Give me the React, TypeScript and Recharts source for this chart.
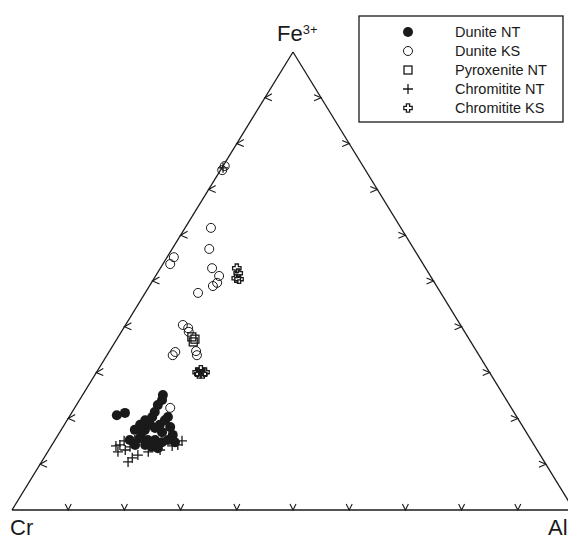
import React from 'react';
import { ScatterChart, Scatter, XAxis, YAxis, ReferenceLine } from 'recharts';

// compositions in %: [Fe3+, Al]  (Cr = 100 - Fe3+ - Al)
const duniteNT = [
  [20.7, 8.3], [21.2, 9.5], [25.1, 14.3], [24.0, 14.7], [22.9, 14.5], [21.4, 14.7],
  [20.3, 14.8], [20.3, 17.6], [18.1, 19.1], [16.4, 20.4], [14.8, 21.6], [17.5, 13.1],
  [18.6, 13.5], [17.5, 14.9], [18.6, 15.3], [17.9, 16.5], [18.6, 17.0], [17.0, 18.2],
  [15.7, 14.9], [15.3, 16.5], [15.3, 17.8], [14.8, 19.3], [15.3, 20.1], [14.2, 16.6],
  [14.2, 14.8], [13.8, 18.0], [13.5, 19.2], [15.3, 13.3], [17.0, 14.6], [19.6, 17.4],
  [19.6, 13.9],
];
const duniteKS = [
  [74.2, 0.3], [75.1, 0.3], [61.6, 4.6], [57.0, 6.6], [55.2, 1.2], [53.7, 1.3],
  [52.8, 9.2], [51.1, 11.3], [49.6, 11.7], [48.9, 11.3], [47.4, 9.4], [40.4, 10.2],
  [39.7, 11.5], [38.9, 12.0], [34.5, 11.8], [33.8, 11.7], [33.8, 16.0], [34.7, 15.4],
  [22.3, 17.0],
];
const pyroxeniteNT = [[36.7, 13.9], [37.8, 13.1], [37.3, 13.9]];
const chromititeNT = [
  [74.7, 0.2], [14.2, 12.1], [12.7, 12.5], [10.5, 15.4], [11.4, 15.7], [12.0, 16.4],
  [13.1, 13.6], [15.1, 22.7], [14.2, 22.4], [19.0, 14.2], [15.9, 14.8], [13.8, 14.1],
  [12.7, 17.9], [15.3, 14.2], [14.0, 11.5], [15.1, 12.4], [17.9, 14.2], [13.1, 19.8],
  [14.0, 21.5],
];
const chromititeKS = [
  [52.8, 13.6], [51.7, 14.4], [50.6, 14.6], [50.4, 15.2], [30.1, 17.9], [30.6, 18.3],
  [30.1, 19.3], [29.7, 18.4], [29.7, 19.1],
];
const tickValues = [10, 20, 30, 40, 50, 60, 70, 80, 90];

const INK = '#1a1a1a';
const FONT = 'Arial, "Liberation Sans", Helvetica, sans-serif';

// ternary -> cartesian (Cr at left, Al at right, Fe3+ on top)
const toXY = ([fe, al]: number[]) => ({ x: al + fe / 2, y: fe });

const CR = toXY([0, 0]);
const AL = toXY([0, 100]);
const FE = toXY([100, 0]);

const bottomTicks = tickValues.map((t) => toXY([0, t]));
const leftTicks = tickValues.map((t) => toXY([t, 0]));
const rightTicks = tickValues.map((t) => toXY([t, 100 - t]));

const chevron = (a: number[], b: number[]) => (props: any) => {
  const { cx, cy } = props;
  return (
    <path
      d={`M${cx + a[0]},${cy + a[1]}L${cx},${cy}L${cx + b[0]},${cy + b[1]}`}
      fill="none"
      stroke={INK}
      strokeWidth={1.1}
    />
  );
};

const FilledDot = (p: any) => <circle cx={p.cx} cy={p.cy} r={5} fill={INK} />;
const OpenDot = (p: any) => (
  <circle cx={p.cx} cy={p.cy} r={4.5} fill="none" stroke={INK} strokeWidth={1} />
);
const OpenSquare = (p: any) => (
  <rect x={p.cx - 4} y={p.cy - 4} width={8} height={8} fill="none" stroke={INK} strokeWidth={1.3} />
);
const Plus = (p: any) => (
  <path
    d={`M${p.cx - 5},${p.cy}H${p.cx + 5}M${p.cx},${p.cy - 5}V${p.cy + 5}`}
    stroke={INK}
    strokeWidth={1.3}
  />
);
const OutlineCross = (p: any) => {
  const { cx, cy } = p;
  const a = 1.6;
  const b = 4.2;
  return (
    <path
      d={`M${cx - a},${cy - b}H${cx + a}V${cy - a}H${cx + b}V${cy + a}H${cx + a}V${cy + b}H${cx - a}V${cy + a}H${cx - b}V${cy - a}H${cx - a}Z`}
      fill="none"
      stroke={INK}
      strokeWidth={1.3}
    />
  );
};

const legendItems = [
  { label: 'Dunite NT', Shape: FilledDot },
  { label: 'Dunite KS', Shape: OpenDot },
  { label: 'Pyroxenite NT', Shape: OpenSquare },
  { label: 'Chromitite NT', Shape: Plus },
  { label: 'Chromitite KS', Shape: OutlineCross },
];

const ChartLegend = () => (
  <svg
    width={206}
    height={108}
    style={{ position: 'absolute', left: 350, top: 7, overflow: 'visible' }}
  >
    <rect x={1} y={1} width={204} height={106} fill="#fff" stroke={INK} strokeWidth={1.3} />
    {legendItems.map(({ label, Shape }, i) => (
      <g key={label}>
        <Shape cx={50} cy={17 + i * 19} />
        <text x={97} y={22 + i * 19} fontSize={14.5} fill={INK} fontFamily={FONT}>
          {label}
        </text>
      </g>
    ))}
  </svg>
);

const labelStyle: React.CSSProperties = {
  position: 'absolute',
  fontFamily: FONT,
  fontSize: 22,
  lineHeight: '20px',
  color: INK,
  whiteSpace: 'nowrap',
};

const data = (rows: number[][]) => rows.map(toXY);

export default function App() {
  return (
    <div style={{ position: 'relative', width: 568, height: 532 }}>
      <ScatterChart width={568} height={532} margin={{ top: 44, right: 2, bottom: 30, left: 4 }}>
        <XAxis type="number" dataKey="x" domain={[0, 100]} hide />
        <YAxis type="number" dataKey="y" domain={[0, 100]} hide />
        <ReferenceLine segment={[CR, AL]} stroke={INK} strokeWidth={1.3} ifOverflow="visible" />
        <ReferenceLine segment={[AL, FE]} stroke={INK} strokeWidth={1.3} ifOverflow="visible" />
        <ReferenceLine segment={[FE, CR]} stroke={INK} strokeWidth={1.3} ifOverflow="visible" />
        <Scatter data={bottomTicks} shape={chevron([-3, -6], [3, -6])} isAnimationActive={false} />
        <Scatter data={leftTicks} shape={chevron([7, -4], [7, 3])} isAnimationActive={false} />
        <Scatter data={rightTicks} shape={chevron([-7, -3], [-7, 3])} isAnimationActive={false} />
        <Scatter name="Chromitite NT" data={data(chromititeNT)} shape={Plus} isAnimationActive={false} />
        <Scatter name="Dunite NT" data={data(duniteNT)} shape={FilledDot} isAnimationActive={false} />
        <Scatter name="Dunite KS" data={data(duniteKS)} shape={OpenDot} isAnimationActive={false} />
        <Scatter name="Pyroxenite NT" data={data(pyroxeniteNT)} shape={OpenSquare} isAnimationActive={false} />
        <Scatter name="Chromitite KS" data={data(chromititeKS)} shape={OutlineCross} isAnimationActive={false} />
      </ScatterChart>
      <ChartLegend />
      <div style={{ ...labelStyle, lineHeight: '22px', left: 269, top: 15 }}>
        Fe<sup style={{ fontSize: 13, verticalAlign: 'top', position: 'relative', top: -4 }}>3+</sup>
      </div>
      <div style={{ ...labelStyle, left: 2, top: 510 }}>Cr</div>
      <div style={{ ...labelStyle, left: 540, top: 510 }}>Al</div>
    </div>
  );
}
